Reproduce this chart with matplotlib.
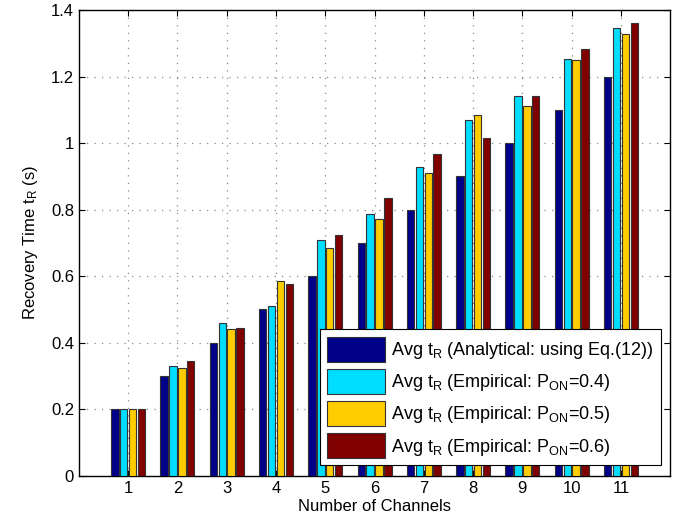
import numpy as np
import matplotlib
matplotlib.use("Agg")
import matplotlib.pyplot as plt

plt.rcParams["font.family"] = ["Liberation Sans", "DejaVu Sans"]
plt.rcParams["mathtext.fontset"] = "custom"
plt.rcParams["mathtext.rm"] = "Liberation Sans"
plt.rcParams["mathtext.it"] = "Liberation Sans"

# datos
canales = [1, 2, 3, 4, 5, 6, 7, 8, 9, 10, 11]
analitico = [0.2, 0.3, 0.4, 0.5, 0.6, 0.7, 0.8, 0.9, 1.0, 1.1, 1.2]
emp_04 = [0.2, 0.33, 0.46, 0.51, 0.71, 0.787, 0.927, 1.068, 1.143, 1.253, 1.345]
emp_05 = [0.2, 0.325, 0.44, 0.585, 0.685, 0.773, 0.91, 1.085, 1.113, 1.25, 1.328]
emp_06 = [0.2, 0.345, 0.445, 0.578, 0.725, 0.835, 0.967, 1.015, 1.143, 1.282, 1.36]

series = [analitico, emp_04, emp_05, emp_06]
colores = ["#000088", "#00DDFF", "#FFCC00", "#800000"]
etiquetas = [
    r"Avg $\mathregular{t_R}$ (Analytical: using Eq.(12))",
    r"Avg $\mathregular{t_R}$ (Empirical: $\mathregular{P_{ON}}$=0.4)",
    r"Avg $\mathregular{t_R}$ (Empirical: $\mathregular{P_{ON}}$=0.5)",
    r"Avg $\mathregular{t_R}$ (Empirical: $\mathregular{P_{ON}}$=0.6)",
]

fig = plt.figure(figsize=(6.86, 5.27), dpi=100)
ax = fig.add_axes([0.115, 0.097, 0.862, 0.884])

x = np.array(canales)
ancho = 0.15
paso = 0.18
for i, (vals, col, lab) in enumerate(zip(series, colores, etiquetas)):
    ax.bar(x + (i - 1.5) * paso, vals, width=ancho, color=col,
           edgecolor="#333333", linewidth=0.8, label=lab, zorder=3)

ax.set_xlim(0, 12)
ax.set_ylim(0, 1.4)
ax.set_xticks(canales)
ax.set_yticks(np.arange(0, 1.41, 0.2))
ax.set_yticklabels(["0", "0.2", "0.4", "0.6", "0.8", "1", "1.2", "1.4"])
ax.tick_params(direction="in", labelsize=12, top=True, right=True, length=4)
ax.grid(True, linestyle=(0, (1, 5)), color="#888888", linewidth=0.9, zorder=0)
for s in ax.spines.values():
    s.set_linewidth(1.0)

ax.set_xlabel("Number of Channels", fontsize=12, labelpad=2)
ax.set_ylabel(r"Recovery Time $\mathregular{t_R}$ (s)", fontsize=12, labelpad=8)

leg = ax.legend(loc="lower right", bbox_to_anchor=(0.999, 0.003), fontsize=13,
                handlelength=3.2, handleheight=1.75, handletextpad=0.3,
                labelspacing=0.4, borderpad=0.4, fancybox=False,
                edgecolor="black", framealpha=1)
leg.get_frame().set_linewidth(0.8)

plt.savefig("out.png", dpi=100)
plt.close()
